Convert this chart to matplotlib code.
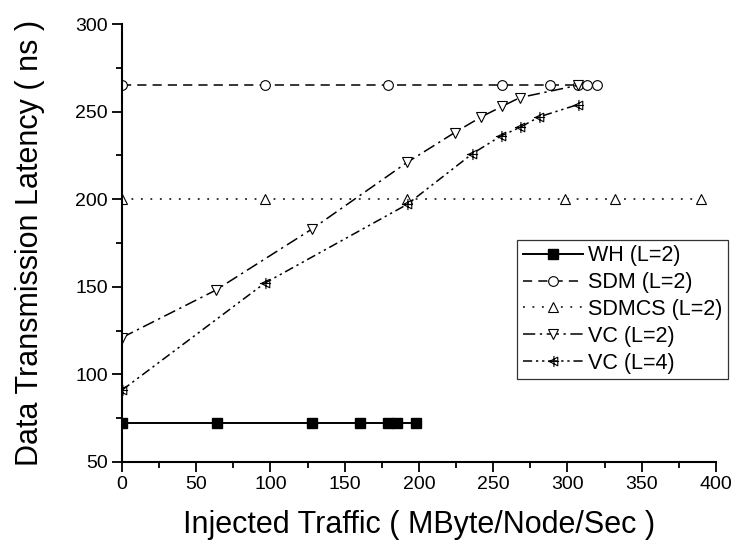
import matplotlib
matplotlib.use("Agg")
import matplotlib.pyplot as plt
from matplotlib.path import Path
import numpy as np

plt.rcParams['font.family'] = ['Liberation Sans', 'DejaVu Sans']

# Data
wh_x = [0, 64, 128, 160, 179, 185, 198]
wh_y = [72, 72, 72, 72, 72, 72, 72]

sdm_x = [0, 96, 179, 256, 288, 307, 313, 320]
sdm_y = [265, 265, 265, 265, 265, 265, 265, 265]

sdmcs_x = [0, 96, 192, 298, 332, 390]
sdmcs_y = [200, 200, 200, 200, 200, 200]

vc2_x = [0, 63, 128, 192, 224, 242, 256, 268, 307]
vc2_y = [121, 148, 183, 221, 238, 247, 253, 258, 265]

vc4_x = [0, 96, 192, 236, 255, 268, 281, 307]
vc4_y = [91, 152, 197, 226, 236, 241, 247, 254]

labels = ["WH (L=2)", "SDM (L=2)", "SDMCS (L=2)", "VC (L=2)", "VC (L=4)"]
xticks = [0, 50, 100, 150, 200, 250, 300, 350, 400]
yticks = [50, 100, 150, 200, 250, 300]

# custom marker: left triangle with a cross
tri = [(-1.0, 0.0), (1.0, 1.0), (1.0, -1.0), (-1.0, 0.0)]
verts = tri + [(0.1, -1.3), (0.1, 1.3), (-1.3, 0.0), (1.3, 0.0)]
codes = [Path.MOVETO, Path.LINETO, Path.LINETO, Path.CLOSEPOLY,
         Path.MOVETO, Path.LINETO, Path.MOVETO, Path.LINETO]
tri_cross = Path(verts, codes)

fig = plt.figure(figsize=(7.37, 5.53), dpi=100)
ax = fig.add_axes([0.1655, 0.1646, 0.806, 0.792])

lw = 1.1
ax.plot(wh_x, wh_y, '-', color='black', lw=1.4, marker='s', ms=6.5,
        mfc='black', mec='black', label=labels[0])
ax.plot(sdm_x, sdm_y, color='black', lw=lw, linestyle=(0, (6, 4)), marker='o', ms=7,
        mfc='white', mec='black', mew=0.8, label=labels[1])
ax.plot(sdmcs_x, sdmcs_y, color='black', lw=lw, linestyle=(0, (1.2, 5)), marker='^', ms=7.5,
        mfc='white', mec='black', mew=0.8, label=labels[2])
ax.plot(vc2_x, vc2_y, color='black', lw=lw, linestyle=(0, (8, 3, 1.5, 3)), marker='v', ms=7.5,
        mfc='white', mec='black', mew=0.8, label=labels[3])
ax.plot(vc4_x, vc4_y, color='black', lw=lw, linestyle=(0, (6, 2.5, 1.5, 2.5, 1.5, 2.5)),
        marker=tri_cross, ms=8, mfc='none', mec='black', mew=0.8, label=labels[4])

ax.set_xlim(0, 400)
ax.set_ylim(50, 300)
ax.set_xticks(xticks)
ax.set_yticks(yticks)
ax.set_xticks(np.arange(25, 400, 50), minor=True)
ax.set_yticks(np.arange(75, 300, 50), minor=True)
ax.tick_params(which='major', direction='out', length=7, width=1.3, labelsize=14, pad=3)
ax.tick_params(which='minor', direction='out', length=4, width=1.3)

for s in ['top', 'right']:
    ax.spines[s].set_visible(False)
for s in ['left', 'bottom']:
    ax.spines[s].set_linewidth(1.5)

ax.set_xlabel("Injected Traffic ( MByte/Node/Sec )", fontsize=22, labelpad=12)
ax.set_ylabel("Data Transmission Latency ( ns )", fontsize=22, labelpad=22)

leg = ax.legend(loc='upper right', bbox_to_anchor=(1.0202, 0.507), fontsize=15.5,
                frameon=True, fancybox=False, edgecolor='black', handlelength=2.8,
                handletextpad=0.25, labelspacing=0.27, borderpad=0.25, borderaxespad=0,
                handleheight=0.7)
leg.get_frame().set_linewidth(0.9)
leg.set_in_layout(False)

fig.savefig("out.png", dpi=100)
